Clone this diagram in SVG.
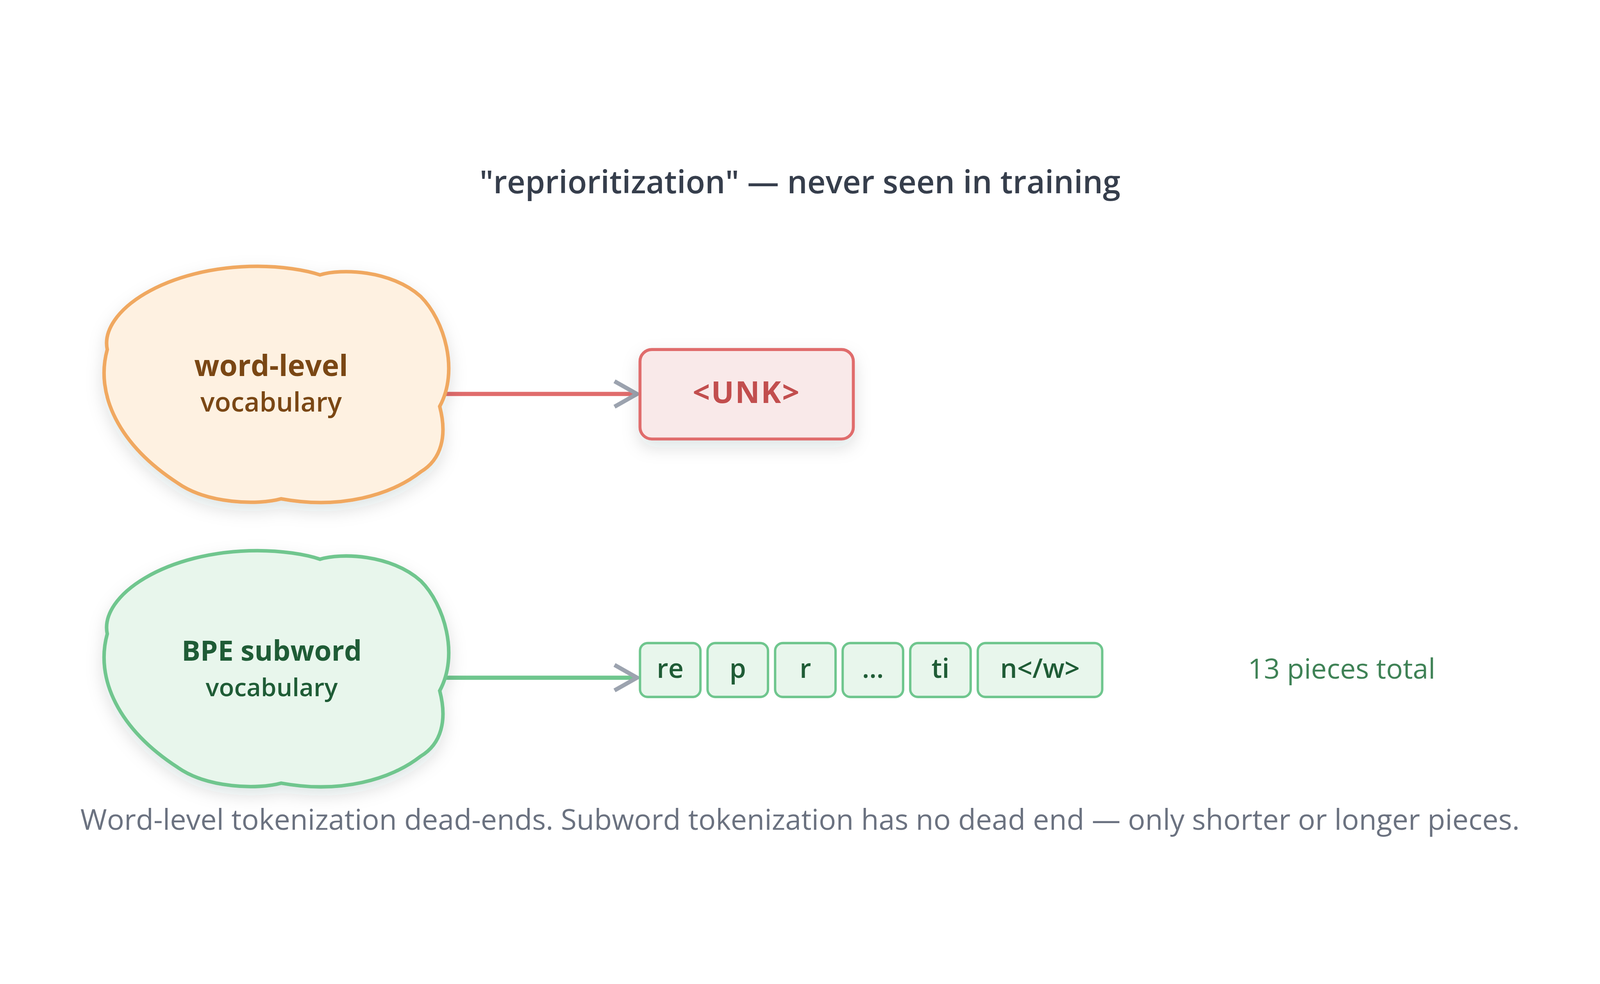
<svg xmlns="http://www.w3.org/2000/svg" width="5400" height="2520" viewBox="0 0 5400 2520">
<defs>
<filter id="sh" x="-20%" y="-20%" width="140%" height="150%">
<feDropShadow dx="0" dy="24" stdDeviation="28" flood-color="#1f2937" flood-opacity="0.13"/>
</filter>
<path id="cloud" d="M362,779 C335,650 560,498 869,498 C950,498 1030,510 1080,527 C1150,505 1320,510 1420,600 C1500,680 1550,850 1484,971 C1510,1070 1490,1150 1420,1192 C1320,1270 1150,1320 949,1283 C870,1305 700,1300 600,1230 C400,1100 320,930 362,779 Z"/>
</defs>
<style>
:root{width:100vw;height:100vh}
text{font-family:"Open Sans","Noto Sans","DejaVu Sans",sans-serif;text-anchor:middle}
.title{font-size:107px;font-weight:600;fill:#363e4c}
.c1{fill:#fef1e1;stroke:#f0a860;stroke-width:12}
.c2{fill:#e8f6ec;stroke:#6fc68e;stroke-width:12}
.t1{fill:#7a4714}
.t2{fill:#1f5c36}
.unk{fill:#f9e9e9;stroke:#e06c6c;stroke-width:10}
.unkt{font-size:102px;font-weight:700;fill:#c24e4e;letter-spacing:4px}
.pc{fill:#e8f6ec;stroke:#6fc68e;stroke-width:8}
.pt{font-size:90px;font-weight:600;fill:#1f5c36}
.note{font-size:94px;fill:#3f8256}
.cap{font-size:97px;fill:#6b7280}
.chev{fill:none;stroke:#9ca3af;stroke-width:14}
</style>
<rect width="5400" height="2520" fill="#ffffff"/>
<g id="title"><text class="title" x="2700" y="252">"reprioritization" — never seen in training</text></g>
<g id="connectors">
<line x1="1500" y1="929" x2="2145" y2="929" stroke="#e06c6c" stroke-width="14"/>
<path class="chev" d="M2074,886 L2150,929 L2074,972"/>
<line x1="1500" y1="1887" x2="2145" y2="1887" stroke="#6fc68e" stroke-width="14"/>
<path class="chev" d="M2074,1844 L2150,1887 L2074,1930"/>
</g>
<g id="word-vocab">
<use href="#cloud" class="c1" filter="url(#sh)"/>
<text class="t1" x="915" y="869" font-size="99" font-weight="700">word-level</text>
<text class="t1" x="915" y="989" font-size="90" font-weight="600">vocabulary</text>
</g>
<g id="bpe-vocab">
<use href="#cloud" class="c2" transform="translate(0,960)" filter="url(#sh)"/>
<text class="t2" x="917" y="1829" font-size="94" font-weight="700">BPE subword</text>
<text class="t2" x="917" y="1950" font-size="84" font-weight="600">vocabulary</text>
</g>
<g id="unk">
<rect class="unk" x="2160" y="779" width="720" height="302" rx="40" filter="url(#sh)"/>
<text class="unkt" x="2520" y="959">&lt;UNK&gt;</text>
</g>
<g id="pieces">
<g id="p1"><rect class="pc" x="2160" y="1770" width="204" height="182" rx="26"/><text class="pt" x="2262" y="1887">re</text></g>
<g id="p2"><rect class="pc" x="2388" y="1770" width="204" height="182" rx="26"/><text class="pt" x="2490" y="1887">p</text></g>
<g id="p3"><rect class="pc" x="2616" y="1770" width="204" height="182" rx="26"/><text class="pt" x="2718" y="1887">r</text></g>
<g id="p4"><rect class="pc" x="2844" y="1770" width="204" height="182" rx="26"/><text class="pt" x="2946" y="1887">…</text></g>
<g id="p5"><rect class="pc" x="3072" y="1770" width="204" height="182" rx="26"/><text class="pt" x="3174" y="1887">ti</text></g>
<g id="p6"><rect class="pc" x="3300" y="1770" width="420" height="182" rx="26"/><text class="pt" x="3510" y="1887">n&lt;/w&gt;</text></g>
</g>
<g id="count"><text class="note" x="4528" y="1890">13 pieces total</text></g>
<g id="caption"><text class="cap" x="2700" y="2400">Word-level tokenization dead-ends. Subword tokenization has no dead end — only shorter or longer pieces.</text></g>
</svg>
